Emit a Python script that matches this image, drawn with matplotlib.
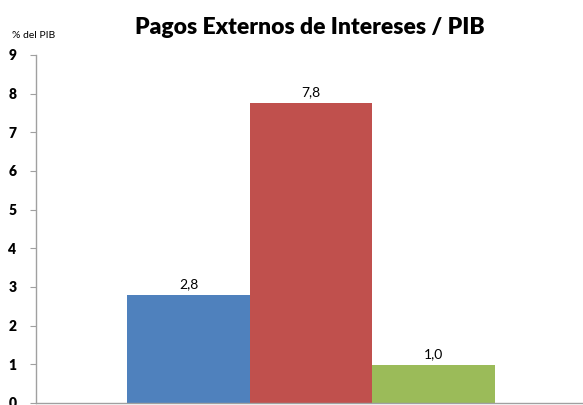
import matplotlib
matplotlib.use("Agg")
import matplotlib.pyplot as plt

series = ["Serie 1", "Serie 2", "Serie 3"]
values = [2.79, 7.76, 0.99]
colors = ["#4F81BD", "#C0504D", "#9BBB59"]
yticks = [0, 1, 2, 3, 4, 5, 6, 7, 8, 9]

plt.rcParams['font.family'] = ['Lato', 'DejaVu Sans']

fig = plt.figure(figsize=(5.83, 4.05), dpi=100)
ax = fig.add_axes([36/583, 2/405, 547/583, (403-55)/405])

width = 0.224
offsets = [-width + 0.003, 0.003, width + 0.003]
for off, v, c in zip(offsets, values, colors):
    ax.bar(off, v, width=width, color=c, align='center')
    ax.text(off, v + 0.12, f"{v:.1f}".replace('.', ','), ha='center', va='bottom', fontsize=10)

ax.set_xlim(-0.5, 0.5)
ax.set_ylim(0, 9)
ax.set_yticks(yticks)
ax.set_yticklabels([str(t) for t in yticks], fontweight='heavy', fontsize=10)
ax.set_xticks([])
for s in ['top', 'right']:
    ax.spines[s].set_visible(False)
for s in ['left', 'bottom']:
    ax.spines[s].set_color('#A0A0A0')
    ax.spines[s].set_linewidth(1.0)
ax.tick_params(axis='y', length=4, color='#A0A0A0', pad=10)

fig.text(310/583, 1 - 27/405, "Pagos Externos de Intereses / PIB", ha='center', va='center',
         fontsize=16.5, fontweight='heavy')
fig.text(12/583, 1 - 36/405, "% del PIB", ha='left', va='center', fontsize=7.5)

fig.savefig("out.png", dpi=100)
